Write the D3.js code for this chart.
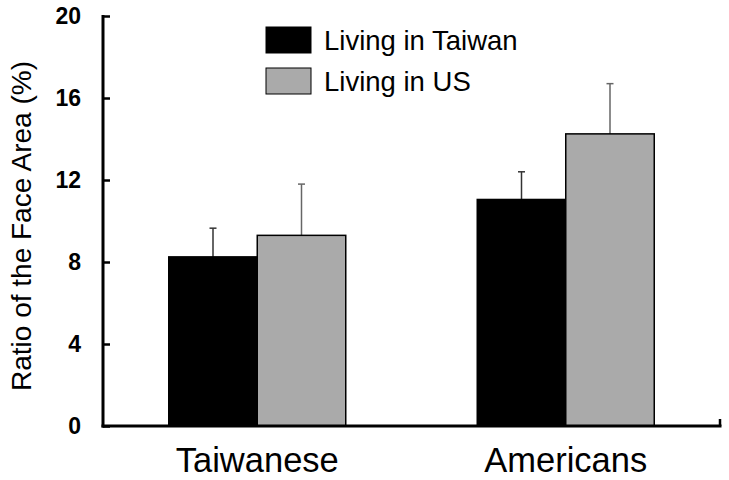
<!DOCTYPE html>
<html>
<head>
<meta charset="utf-8">
<script src="https://cdn.jsdelivr.net/npm/d3@7"></script>
<style>
  body { margin: 0; background: #fff; }
  svg { display: block; font-family: "Liberation Sans", Arial, sans-serif; }
</style>
</head>
<body>
<div id="chart"></div>
<script>
'use strict';

// Data
const groups = ['Taiwanese', 'Americans'];
const series = ['Living in Taiwan', 'Living in US'];
const livingTaiwan = [8.25, 11.05];
const livingUS = [9.3, 14.25];
const errTaiwan = [1.4, 1.35];
const errUS = [2.5, 2.45];
const yTicks = [0, 4, 8, 12, 16, 20];
const colors = ['#000000', '#aaaaaa'];
const errColors = ['#333333', '#666666'];

// Configs
const svgW = 729;
const svgH = 480;
const axisX = 103;
const axisRight = 720;
const yTop = 16;
const yBottom = 426;

const svg = d3.select('#chart')
    .append('svg')
    .attr('width', svgW)
    .attr('height', svgH);

// Scales
const y = d3.scaleLinear().domain([0, 20]).range([yBottom, yTop]);
const x0 = d3.scaleBand().domain(groups).range([axisX, axisRight]);
const groupW = 177;
const x1 = d3.scaleBand().domain(series).range([0, groupW]);

// Rows
const rows = [];
groups.forEach((g, i) => {
    rows.push({group: g, s: series[0], k: 0, v: livingTaiwan[i], e: errTaiwan[i]});
    rows.push({group: g, s: series[1], k: 1, v: livingUS[i], e: errUS[i]});
});
const barX = d => x0(d.group) + (x0.bandwidth() - groupW) / 2 + x1(d.s);

// Error bars (drawn first, bar covers the bottom)
const errG = svg.append('g').attr('class', 'errG');
rows.forEach(d => {
    const cx = barX(d) + x1.bandwidth() / 2;
    errG.append('line')
        .attr('x1', cx).attr('x2', cx)
        .attr('y1', y(d.v)).attr('y2', y(d.v + d.e))
        .attr('stroke', errColors[d.k]).attr('stroke-width', 1.5);
    errG.append('line')
        .attr('x1', cx - 3.5).attr('x2', cx + 3.5)
        .attr('y1', y(d.v + d.e)).attr('y2', y(d.v + d.e))
        .attr('stroke', errColors[d.k]).attr('stroke-width', 1.5);
});

// Bars
svg.append('g').attr('class', 'barG')
    .selectAll('rect')
    .data(rows)
    .join('rect')
    .attr('x', d => barX(d))
    .attr('y', d => y(d.v))
    .attr('width', x1.bandwidth())
    .attr('height', d => y(0) - y(d.v))
    .attr('fill', d => colors[d.k])
    .attr('stroke', '#000')
    .attr('stroke-width', 1.5);

// Y axis
const yAxis = svg.append('g')
    .attr('transform', `translate(${axisX},0)`)
    .call(d3.axisRight(y).tickValues(yTicks).tickSize(7).tickFormat(''));
yAxis.select('.domain').remove();
yAxis.selectAll('.tick line').attr('stroke', '#000').attr('stroke-width', 2.5);
yAxis.append('line')
    .attr('x1', 0).attr('x2', 0)
    .attr('y1', yTop - 1).attr('y2', yBottom + 1.5)
    .attr('stroke', '#000').attr('stroke-width', 3);

// Y tick labels
svg.append('g').selectAll('text')
    .data(yTicks)
    .join('text')
    .attr('x', 81)
    .attr('y', d => y(d) + 8)
    .attr('text-anchor', 'end')
    .attr('font-size', 23)
    .attr('font-weight', 'bold')
    .text(d => d);

// X axis
svg.append('line')
    .attr('x1', axisX - 1.5).attr('x2', axisRight + 1.5)
    .attr('y1', yBottom).attr('y2', yBottom)
    .attr('stroke', '#000').attr('stroke-width', 3);
svg.append('line')
    .attr('x1', axisRight).attr('x2', axisRight)
    .attr('y1', yBottom).attr('y2', yBottom - 7)
    .attr('stroke', '#000').attr('stroke-width', 2.5);

// X labels
svg.append('g').selectAll('text')
    .data(groups)
    .join('text')
    .attr('x', d => x0(d) + x0.bandwidth() / 2)
    .attr('y', 472)
    .attr('text-anchor', 'middle')
    .attr('font-size', 34.5)
    .text(d => d);

// Y title
svg.append('text')
    .attr('transform', 'translate(31,226) rotate(-90)')
    .attr('text-anchor', 'middle')
    .attr('font-size', 28)
    .text('Ratio of the Face Area (%)');

// Legend
const legendG = svg.append('g').attr('class', 'legendG');
series.forEach((s, i) => {
    legendG.append('rect')
        .attr('x', 266).attr('y', 27 + i * 41)
        .attr('width', 45).attr('height', 26)
        .attr('fill', colors[i])
        .attr('stroke', '#000').attr('stroke-width', 1);
    legendG.append('text')
        .attr('x', 324).attr('y', 50 + i * 41)
        .attr('font-size', 27.5)
        .text(s);
});
</script>
</body>
</html>
